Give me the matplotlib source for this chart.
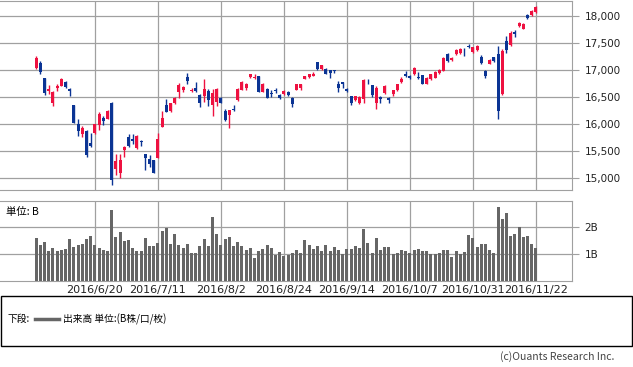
import numpy as np
import matplotlib
matplotlib.use("Agg")
import matplotlib.pyplot as plt
from matplotlib.lines import Line2D

plt.rcParams['font.family'] = ['DejaVu Sans', 'Noto Sans CJK JP']

# daily candles 2016/5/31 - 2016/11/22
opens = [17050, 17140, 16850, 16610, 16395, 16665, 16715, 16780, 16660, 16350,
         16010, 15810, 15870, 15655, 15840, 15980, 16115, 16105, 16395, 15160,
         15100, 15520, 15770, 15725, 15550, 15680, 15440, 15350, 15330, 15380,
         15950, 16350, 16240, 16395, 16600, 16630, 16875, 16620, 16675, 16535,
         16525, 16615, 16350, 16415, 16490, 16240, 16165, 16280, 16445, 16640,
         16680, 16880, 16860, 16890, 16600, 16660, 16575, 16635, 16550, 16555,
         16600, 16495, 16640, 16680, 16845, 16880, 16900, 17150, 17030, 17030,
         17000, 16995, 16750, 16785, 16660, 16520, 16445, 16395, 16475, 16770,
         16720, 16385, 16505, 16580, 16490, 16555, 16640, 16785, 16925, 16890,
         16925, 16865, 16905, 16755, 16845, 16865, 16950, 16990, 17295, 17200,
         17295, 17320, 17365, 17450, 17340, 17370, 17245, 16990, 17125, 17245,
         17295, 16555, 17545, 17465, 17710, 17815, 17775, 18035, 18020, 18080]
highs = [17270, 17170, 16860, 16735, 16611, 16755, 16860, 16810, 16665, 16355,
         16100, 15965, 15900, 15840, 15995, 16220, 16160, 16270, 16410, 15440,
         15440, 15590, 15810, 15810, 15790, 15700, 15445, 15425, 15340, 15830,
         16240, 16460, 16400, 16500, 16760, 16700, 16950, 16665, 16780, 16560,
         16835, 16650, 16650, 16680, 16500, 16290, 16270, 16360, 16670, 16800,
         16770, 16935, 16940, 16900, 16770, 16670, 16630, 16680, 16560, 16630,
         16620, 16500, 16750, 16750, 16900, 16940, 16960, 17160, 17100, 17050,
         17010, 17010, 16810, 16790, 16680, 16530, 16530, 16520, 16830, 16830,
         16730, 16700, 16530, 16720, 16500, 16640, 16750, 16870, 16990, 16910,
         17070, 16970, 16920, 16875, 16935, 16980, 17030, 17250, 17320, 17240,
         17390, 17410, 17420, 17480, 17440, 17470, 17290, 17000, 17210, 17255,
         17445, 17400, 17640, 17730, 17740, 17890, 17880, 18040, 18120, 18190]
lows = [17030, 16940, 16550, 16560, 16330, 16610, 16700, 16680, 16520, 16020,
        15780, 15765, 15395, 15580, 15810, 15900, 15985, 16090, 14865, 15060,
        15000, 15395, 15575, 15640, 15545, 15600, 15150, 15210, 15095, 15370,
        15940, 16220, 16230, 16380, 16495, 16600, 16740, 16595, 16600, 16310,
        16410, 16330, 16160, 16330, 16390, 16050, 15920, 16240, 16430, 16630,
        16640, 16860, 16830, 16595, 16590, 16480, 16500, 16580, 16470, 16545,
        16530, 16310, 16630, 16640, 16830, 16860, 16890, 17005, 17010, 16930,
        16850, 16950, 16600, 16680, 16600, 16350, 16430, 16370, 16400, 16740,
        16500, 16290, 16400, 16560, 16400, 16530, 16620, 16770, 16870, 16840,
        16910, 16840, 16740, 16740, 16820, 16850, 16940, 16980, 17160, 17170,
        17280, 17310, 17270, 17420, 17320, 17350, 17120, 16850, 17110, 17150,
        16105, 16540, 17330, 17450, 17620, 17800, 17760, 17960, 18000, 18070]
closes = [17235, 16960, 16580, 16660, 16600, 16705, 16840, 16690, 16610, 16025,
          15870, 15930, 15420, 15595, 15995, 16185, 16065, 16245, 14955, 15320,
          15330, 15580, 15590, 15685, 15775, 15665, 15370, 15260, 15100, 15720,
          16115, 16230, 16395, 16495, 16720, 16690, 16795, 16635, 16610, 16385,
          16660, 16455, 16570, 16660, 16395, 16075, 16255, 16265, 16660, 16785,
          16750, 16925, 16868, 16600, 16750, 16490, 16565, 16625, 16495, 16615,
          16540, 16370, 16740, 16740, 16890, 16925, 16940, 17030, 17090, 16940,
          16950, 16985, 16680, 16750, 16615, 16385, 16515, 16505, 16815, 16760,
          16535, 16680, 16460, 16705, 16445, 16630, 16740, 16845, 16890, 16860,
          17050, 16855, 16755, 16865, 16925, 16970, 17010, 17235, 17175, 17235,
          17380, 17400, 17350, 17440, 17430, 17460, 17135, 16890, 17200, 17175,
          16250, 17350, 17370, 17690, 17680, 17875, 17865, 17975, 18110, 18170]
# volume, billions of shares
volume = [1.59, 1.34, 1.44, 1.11, 1.21, 1.11, 1.15, 1.19, 1.56, 1.26,
          1.35, 1.37, 1.56, 1.67, 1.34, 1.22, 1.15, 1.11, 2.65, 1.64,
          1.82, 1.49, 1.52, 1.22, 1.11, 1.11, 1.60, 1.30, 1.30, 1.41,
          1.86, 1.97, 1.37, 1.75, 1.34, 1.22, 1.37, 1.04, 1.04, 1.30,
          1.56, 1.30, 2.39, 1.75, 1.34, 1.56, 1.64, 1.30, 1.45, 1.30,
          1.15, 1.22, 0.85, 1.11, 1.19, 1.34, 1.22, 0.96, 1.07, 0.92,
          0.97, 1.02, 1.15, 1.05, 1.52, 1.34, 1.19, 1.30, 1.11, 1.34,
          1.11, 1.26, 1.15, 1.00, 1.19, 1.19, 1.30, 1.22, 1.94, 1.41,
          1.04, 1.60, 1.15, 1.26, 1.26, 1.00, 1.04, 1.15, 1.11, 1.02,
          1.15, 1.19, 1.11, 1.11, 1.00, 1.00, 1.04, 1.15, 1.15, 0.89,
          1.11, 1.00, 1.07, 1.71, 1.60, 1.26, 1.37, 1.37, 1.15, 1.04,
          2.76, 2.31, 2.54, 1.67, 1.75, 2.01, 1.64, 1.67, 1.37, 1.22]

tick_pos = [14, 29, 44, 59, 74, 89, 104, 119]
tick_labels = ['2016/6/20', '2016/7/11', '2016/8/2', '2016/8/24',
               '2016/9/14', '2016/10/7', '2016/10/31', '2016/11/22']
price_ticks = [15000, 15500, 16000, 16500, 17000, 17500, 18000]

UP = '#ee1140'
DOWN = '#0b3494'
GRID = '#a0a0a0'
CJK = ['Noto Sans CJK JP', 'DejaVu Sans']

W, H = 633, 367
fig = plt.figure(figsize=(W / 100, H / 100), dpi=100)

def px_axes(x0, y0, x1, y1):
    return fig.add_axes([x0 / W, 1 - y1 / H, (x1 - x0) / W, (y1 - y0) / H])

x = np.arange(len(closes))
o = np.array(opens); c = np.array(closes)
hi = np.array(highs); lo = np.array(lows)
col = np.where(c >= o, UP, DOWN)

ax = px_axes(0, 0.5, 572, 190)
ax.vlines(x, lo, hi, colors=col, lw=1.0, zorder=3)
body_h = np.maximum(np.abs(c - o), 12)
ax.bar(x, body_h, bottom=np.minimum(o, c), width=0.72, color=col, lw=0, zorder=3)
ax.set_xlim(-8.6, 127.6)
ax.set_ylim(14778, 18296)
ax.set_yticks(price_ticks)
ax.set_yticklabels(['{:,}'.format(v) for v in price_ticks])
ax.set_xticks(tick_pos)
ax.tick_params(axis='x', length=0, labelbottom=False)
ax.yaxis.tick_right()
ax.tick_params(axis='y', colors=GRID, labelcolor='#222222', labelsize=7.5,
               length=5, width=0.8, pad=4)
ax.grid(True, color=GRID, lw=0.9)
ax.set_axisbelow(True)
for s in ['top', 'right', 'bottom']:
    ax.spines[s].set_color(GRID)
ax.spines['left'].set_visible(False)

# volume panel
ax2 = px_axes(0, 201, 572, 280.7)
ax2.bar(x, volume, width=0.68, color='#666666', lw=0, zorder=3)
ax2.set_xlim(-8.6, 127.6)
ax2.set_ylim(0, 2.985)
ax2.set_yticks([1, 2])
ax2.set_yticklabels(['1B', '2B'])
ax2.yaxis.tick_right()
ax2.tick_params(axis='y', colors=GRID, labelcolor='#222222', labelsize=7.5,
                length=5, width=0.8, pad=4)
ax2.set_xticks(tick_pos)
ax2.set_xticklabels(tick_labels)
ax2.tick_params(axis='x', length=0, labelsize=8, labelcolor='#222222', pad=3)
ax2.grid(True, color=GRID, lw=0.9)
ax2.set_axisbelow(True)
for s in ['top', 'right', 'bottom']:
    ax2.spines[s].set_color(GRID)
ax2.spines['left'].set_visible(False)
ax2.text(6 / 572, 0.93, '単位: B', transform=ax2.transAxes, fontsize=7.5,
         va='top', ha='left', family=CJK)

# legend box
fig.patches.append(plt.Rectangle((1 / W, 1 - 346 / H), 631 / W, 50 / H,
                                 transform=fig.transFigure, fill=False,
                                 ec='black', lw=1.0))
fig.text(8 / W, 1 - 319 / H, '下段:', fontsize=7, va='center', family=CJK)
fig.lines.append(Line2D([35 / W, 59 / W], [1 - 319 / H, 1 - 319 / H],
                        transform=fig.transFigure, color='#666666', lw=2.5))
fig.text(63 / W, 1 - 319 / H, '出来高 単位:(B株/口/枚)', fontsize=7, va='center',
         family=CJK)
fig.text(614 / W, 1 - 357 / H, '(c)Ouants Research Inc.', fontsize=7.5,
         va='center', ha='right', color='#444444', family=CJK)

fig.savefig('out.png', dpi=100)
